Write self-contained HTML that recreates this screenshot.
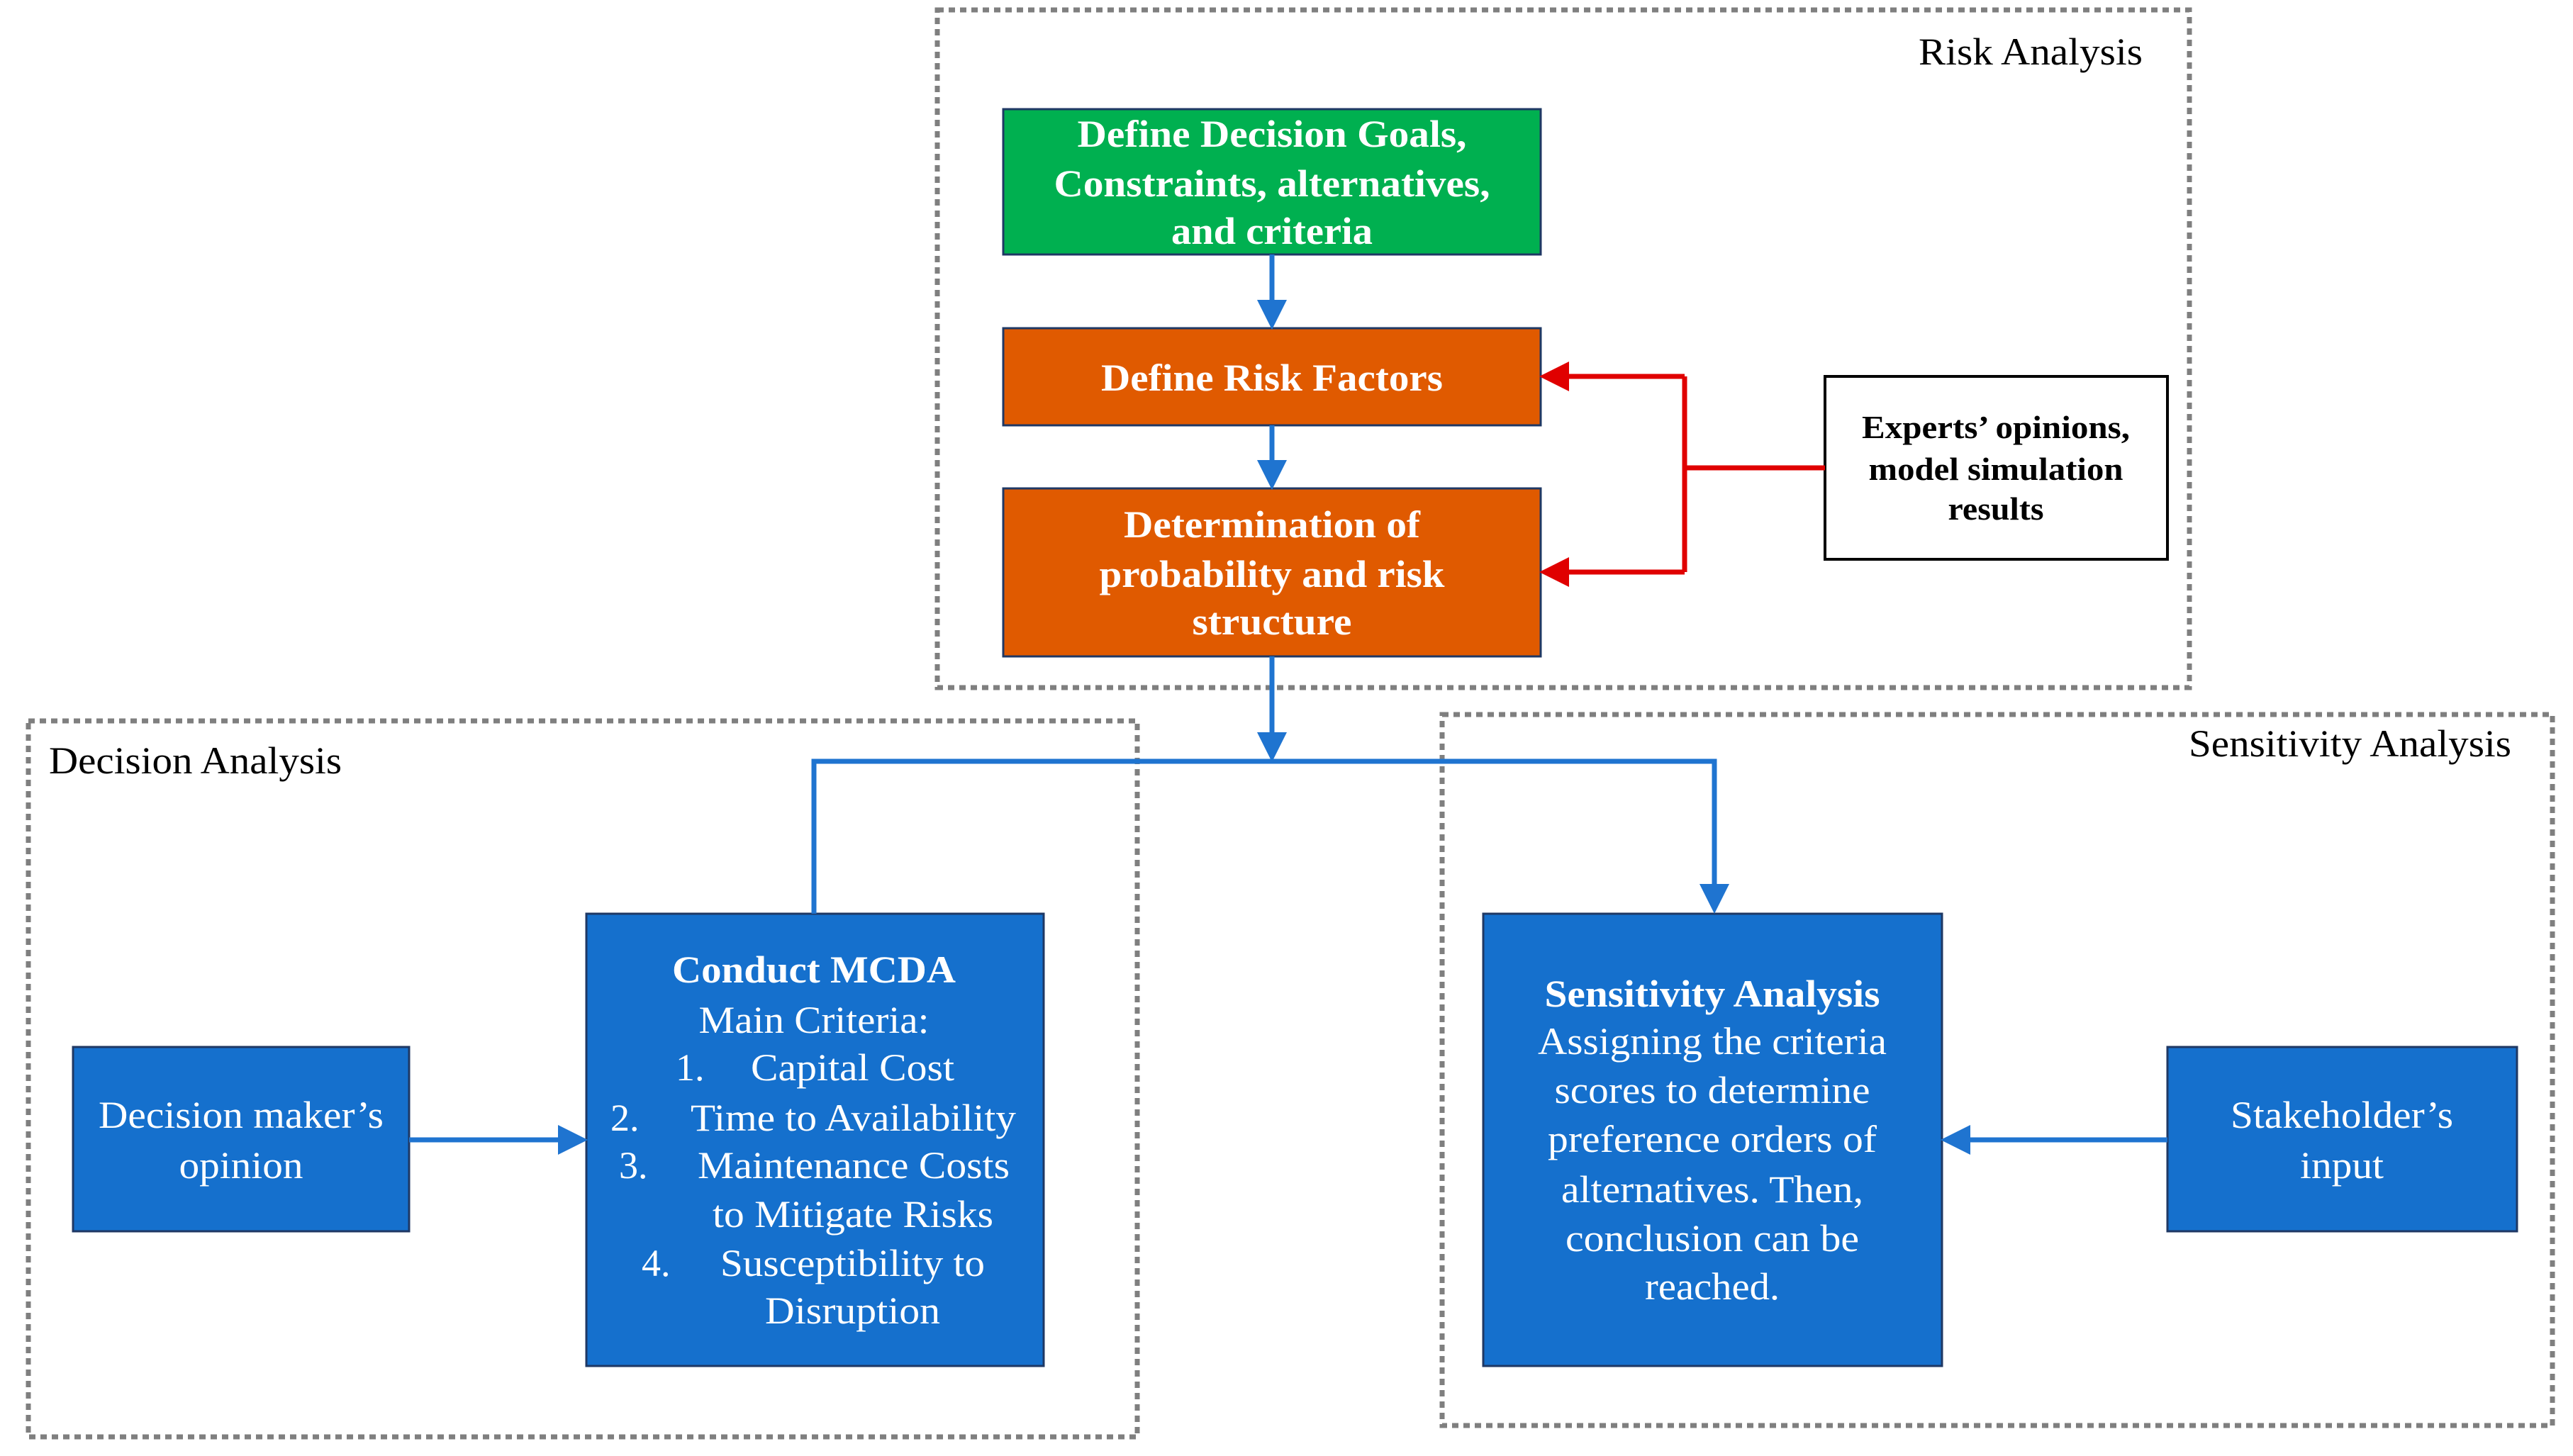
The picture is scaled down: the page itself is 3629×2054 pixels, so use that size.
<!DOCTYPE html>
<html><head><meta charset="utf-8"><style>html,body{margin:0;padding:0;background:#fff}svg{display:block}</style></head>
<body>
<svg width="3629" height="2054" viewBox="0 0 3629 2054" xmlns="http://www.w3.org/2000/svg" font-family="'Liberation Serif', serif">
<defs>
<marker id="ab" markerWidth="6" markerHeight="6" refX="5" refY="3" orient="auto" markerUnits="strokeWidth"><path d="M0,0 L6,3 L0,6 z" fill="#1F74D0"/></marker>
<marker id="ar" markerWidth="6" markerHeight="6" refX="5" refY="3" orient="auto" markerUnits="strokeWidth"><path d="M0,0 L6,3 L0,6 z" fill="#E00000"/></marker>
</defs>
<g fill="none" stroke="#7f7f7f" stroke-width="7" stroke-dasharray="9,7">
<rect x="1322" y="14" width="1766" height="956"/>
<rect x="40" y="1017" width="1564" height="1010"/>
<rect x="2034" y="1008" width="1566" height="1003"/>
</g>
<g font-size="54" fill="#000">
<text x="2706" y="91" textLength="316" lengthAdjust="spacingAndGlyphs">Risk Analysis</text>
<text x="69" y="1091" textLength="413" lengthAdjust="spacingAndGlyphs">Decision Analysis</text>
<text x="3087" y="1067" textLength="455" lengthAdjust="spacingAndGlyphs">Sensitivity Analysis</text>
</g>
<g stroke="#1F3864" stroke-width="3">
<rect x="1415" y="154" width="758" height="205" fill="#00B050"/>
<rect x="1415" y="463" width="758" height="137" fill="#E05A00"/>
<rect x="1415" y="689" width="758" height="237" fill="#E05A00"/>
<rect x="827" y="1289" width="645" height="638" fill="#1570CD"/>
<rect x="103" y="1477" width="474" height="260" fill="#1570CD"/>
<rect x="2092" y="1289" width="647" height="638" fill="#1570CD"/>
<rect x="3057" y="1477" width="493" height="260" fill="#1570CD"/>
</g>
<rect x="2574" y="531" width="483" height="258" fill="#fff" stroke="#000" stroke-width="4"/>
<g stroke="#1F74D0" stroke-width="7" fill="none">
<line x1="1794" y1="359" x2="1794" y2="458" marker-end="url(#ab)"/>
<line x1="1794" y1="600" x2="1794" y2="684" marker-end="url(#ab)"/>
<line x1="1794" y1="926" x2="1794" y2="1068" marker-end="url(#ab)"/>
<polyline points="1148,1289 1148,1074 2418,1074 2418,1282" marker-end="url(#ab)"/>
<line x1="577" y1="1608" x2="822" y2="1608" marker-end="url(#ab)"/>
<line x1="3057" y1="1608" x2="2744" y2="1608" marker-end="url(#ab)"/>
</g>
<g stroke="#E00000" stroke-width="7" fill="none">
<line x1="2574" y1="660" x2="2376" y2="660"/>
<polyline points="2376,531 2376,807"/>
<line x1="2376" y1="531" x2="2178" y2="531" marker-end="url(#ar)"/>
<line x1="2376" y1="807" x2="2178" y2="807" marker-end="url(#ar)"/>
</g>
<g font-size="54" font-weight="bold" fill="#fff" lengthAdjust="spacingAndGlyphs">
<text x="1794" y="207" text-anchor="middle" textLength="549" lengthAdjust="spacingAndGlyphs">Define Decision Goals,</text>
<text x="1794" y="277" text-anchor="middle" textLength="615" lengthAdjust="spacingAndGlyphs">Constraints, alternatives,</text>
<text x="1794" y="344" text-anchor="middle" textLength="284" lengthAdjust="spacingAndGlyphs">and criteria</text>
<text x="1794" y="551" text-anchor="middle" textLength="482" lengthAdjust="spacingAndGlyphs">Define Risk Factors</text>
<text x="1794" y="758" text-anchor="middle" textLength="418" lengthAdjust="spacingAndGlyphs">Determination of</text>
<text x="1794" y="828" text-anchor="middle" textLength="487" lengthAdjust="spacingAndGlyphs">probability and risk</text>
<text x="1794" y="895" text-anchor="middle" textLength="225" lengthAdjust="spacingAndGlyphs">structure</text>
<text x="1148" y="1386" text-anchor="middle" textLength="400" lengthAdjust="spacingAndGlyphs">Conduct MCDA</text>
<text x="2415" y="1420" text-anchor="middle" textLength="473" lengthAdjust="spacingAndGlyphs">Sensitivity Analysis</text>
</g>
<g font-size="46" font-weight="bold" fill="#000">
<text x="2815" y="618" text-anchor="middle" textLength="378" lengthAdjust="spacingAndGlyphs">Experts’ opinions,</text>
<text x="2815" y="677" text-anchor="middle" textLength="359" lengthAdjust="spacingAndGlyphs">model simulation</text>
<text x="2815" y="733" text-anchor="middle" textLength="135" lengthAdjust="spacingAndGlyphs">results</text>
</g>
<g font-size="54" fill="#fff">
<text x="1148" y="1457" text-anchor="middle" textLength="325" lengthAdjust="spacingAndGlyphs">Main Criteria:</text>
<text x="953" y="1524">1.</text>
<text x="1059" y="1524" textLength="287" lengthAdjust="spacingAndGlyphs">Capital Cost</text>
<text x="861" y="1595">2.</text>
<text x="974" y="1595" textLength="459" lengthAdjust="spacingAndGlyphs">Time to Availability</text>
<text x="873" y="1662">3.</text>
<text x="984" y="1662" textLength="440" lengthAdjust="spacingAndGlyphs">Maintenance Costs</text>
<text x="1005" y="1731" textLength="396" lengthAdjust="spacingAndGlyphs">to Mitigate Risks</text>
<text x="905" y="1800">4.</text>
<text x="1016" y="1800" textLength="373" lengthAdjust="spacingAndGlyphs">Susceptibility to</text>
<text x="1079" y="1867" textLength="247" lengthAdjust="spacingAndGlyphs">Disruption</text>
<text x="2415" y="1487" text-anchor="middle" textLength="492" lengthAdjust="spacingAndGlyphs">Assigning the criteria</text>
<text x="2415" y="1556" text-anchor="middle" textLength="445" lengthAdjust="spacingAndGlyphs">scores to determine</text>
<text x="2415" y="1625" text-anchor="middle" textLength="464" lengthAdjust="spacingAndGlyphs">preference orders of</text>
<text x="2415" y="1696" text-anchor="middle" textLength="426" lengthAdjust="spacingAndGlyphs">alternatives. Then,</text>
<text x="2415" y="1765" text-anchor="middle" textLength="414" lengthAdjust="spacingAndGlyphs">conclusion can be</text>
<text x="2415" y="1833" text-anchor="middle" textLength="190" lengthAdjust="spacingAndGlyphs">reached.</text>
<text x="340" y="1591" text-anchor="middle" textLength="402" lengthAdjust="spacingAndGlyphs">Decision maker’s</text>
<text x="340" y="1662" text-anchor="middle" textLength="175" lengthAdjust="spacingAndGlyphs">opinion</text>
<text x="3303" y="1591" text-anchor="middle" textLength="314" lengthAdjust="spacingAndGlyphs">Stakeholder’s</text>
<text x="3303" y="1662" text-anchor="middle" textLength="118" lengthAdjust="spacingAndGlyphs">input</text>
</g>
</svg>
</body></html>
